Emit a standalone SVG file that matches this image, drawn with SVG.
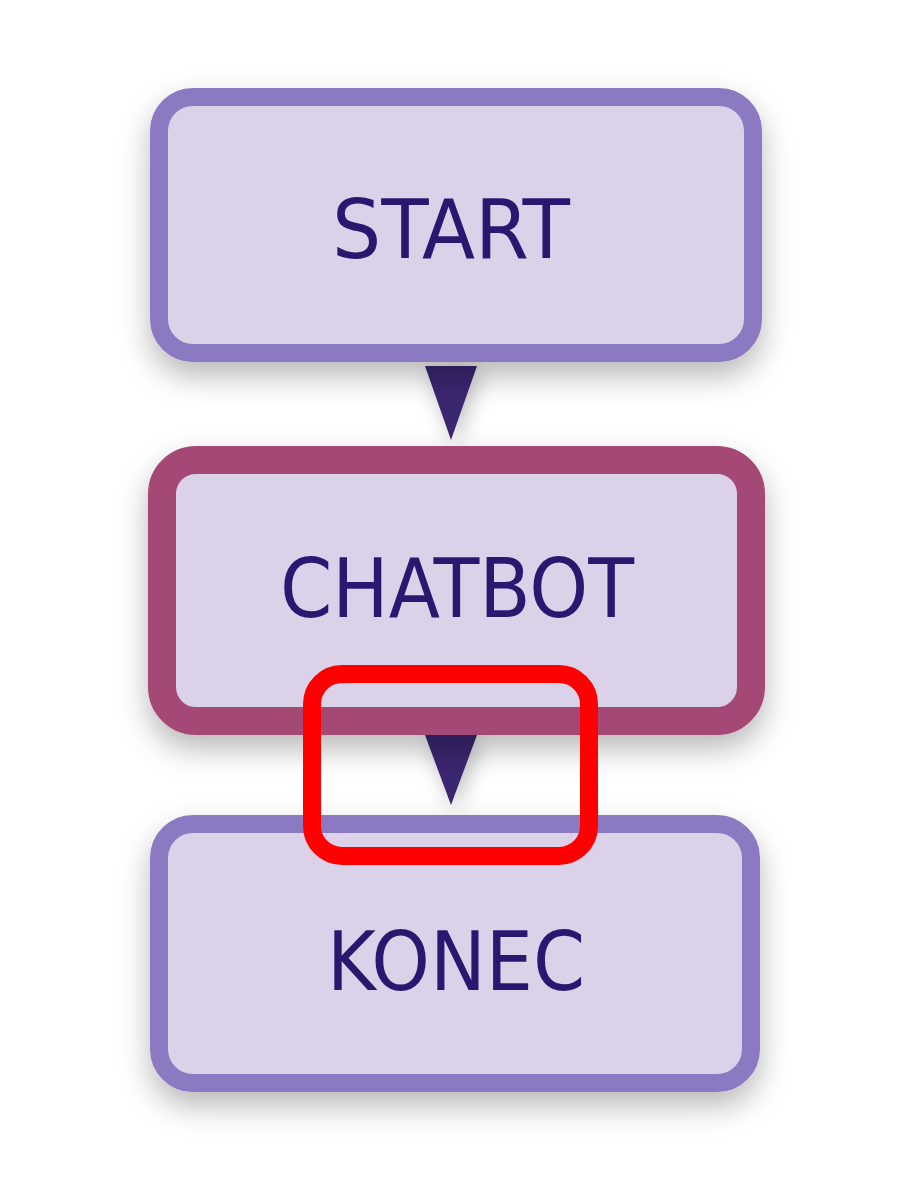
<svg xmlns="http://www.w3.org/2000/svg" width="911" height="1184" viewBox="0 0 911 1184">
<defs>
<filter id="sh" x="-30%" y="-30%" width="160%" height="170%">
<feDropShadow dx="0" dy="14" stdDeviation="15" flood-color="#000" flood-opacity="0.28"/>
</filter>
<filter id="sha" x="-150%" y="-80%" width="400%" height="300%">
<feDropShadow dx="4" dy="6" stdDeviation="10" flood-color="#000" flood-opacity="0.25"/>
</filter>
<style>
.box{fill:#dbd2ea;filter:url(#sh)}
.purple{stroke:#8b79c1;stroke-width:18}
.wine{stroke:#a44a74;stroke-width:28}
.lbl{font-family:"DejaVu Sans Condensed","DejaVu Sans",sans-serif;font-size:82px;fill:#2a1870;text-anchor:middle}
.arr{fill:#3a2570;filter:url(#sha)}
</style>
</defs>
<rect width="911" height="1184" fill="#ffffff"/>
<g id="connectors">
<polygon class="arr" points="425,366 477,366 451,440"/>
<polygon class="arr" points="425,735 477,735 451,805"/>
</g>
<g id="start">
<rect class="box purple" x="159" y="97" width="594" height="256" rx="34"/>
<text class="lbl" x="451" y="258" textLength="238" lengthAdjust="spacingAndGlyphs">START</text>
</g>
<g id="chatbot">
<rect class="box wine" x="162" y="460" width="589" height="261" rx="34"/>
<text class="lbl" x="457" y="617" textLength="354" lengthAdjust="spacingAndGlyphs">CHATBOT</text>
</g>
<g id="konec">
<rect class="box purple" x="159" y="824" width="592" height="259" rx="34"/>
<text class="lbl" x="456" y="990" textLength="258" lengthAdjust="spacingAndGlyphs">KONEC</text>
</g>
<g id="highlight">
<rect x="312" y="674" width="277" height="182" rx="30" fill="none" stroke="#ff0000" stroke-width="18"/>
</g>
</svg>
